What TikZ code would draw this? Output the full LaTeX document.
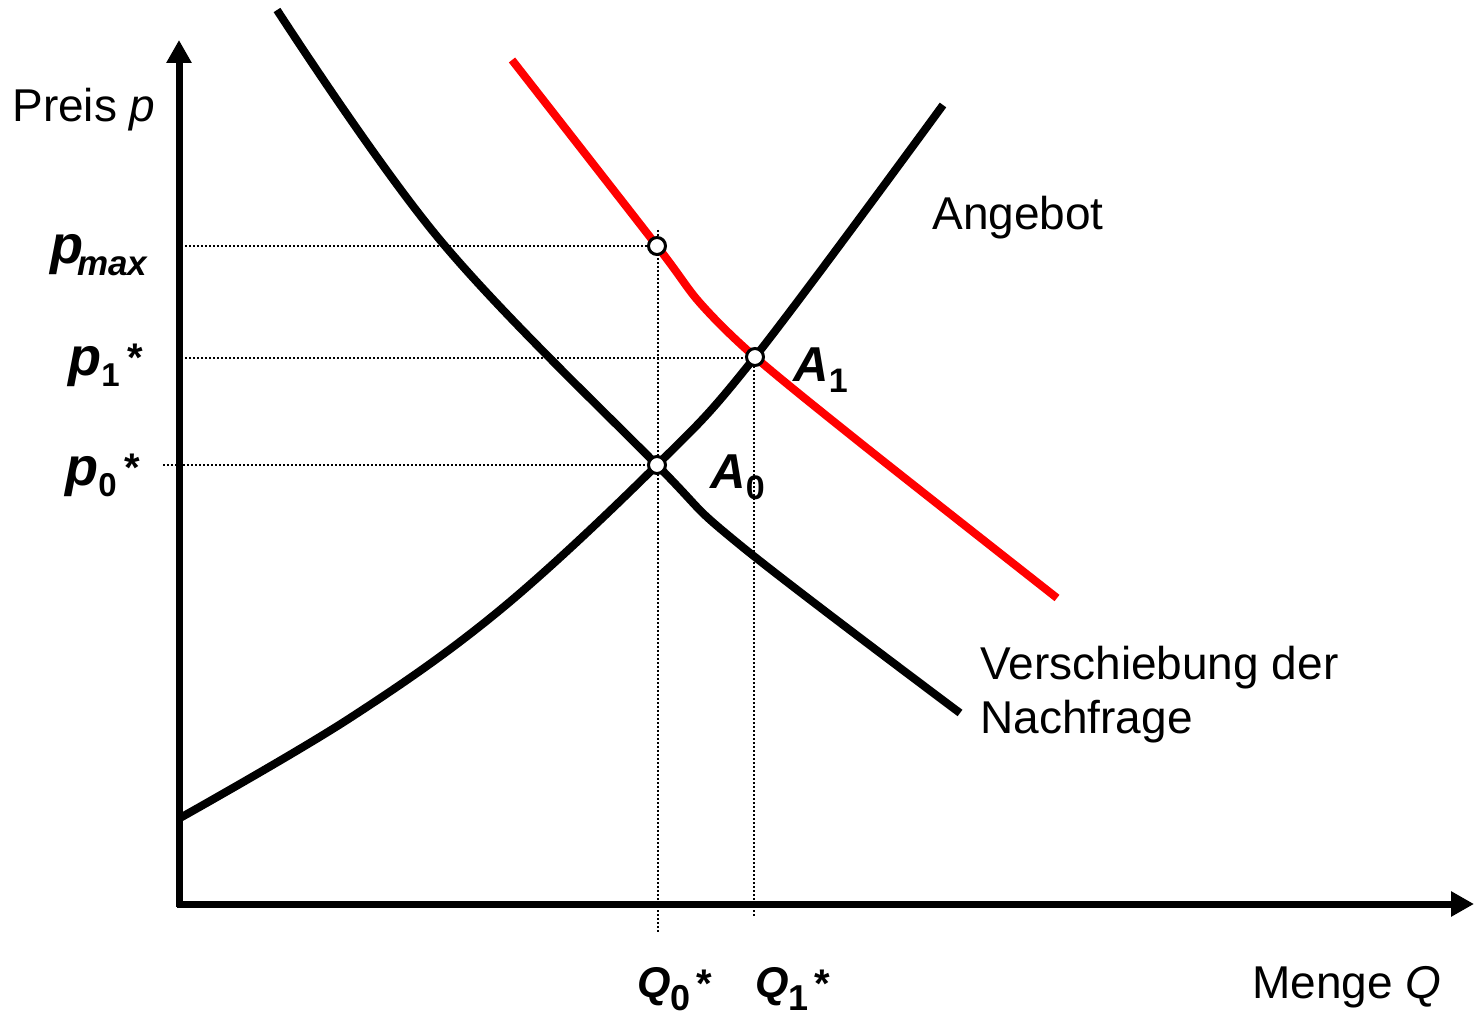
\documentclass[tikz,border=0pt]{standalone}
\usepackage{fontspec}
\setmainfont{Liberation Sans}
\usetikzlibrary{arrows.meta}
\tikzset{
  axisline/.style={line width=3.5pt, -{Triangle[length=11.5pt,width=12pt]}},
  curveline/.style={line width=4pt, line join=round},
  guide/.style={line width=0.8pt, dash pattern=on 1pt off 1pt},
  eqpoint/.style={circle, draw, fill=white, line width=1.5pt, inner sep=0pt, minimum size=8.5pt},
  txt/.style={font=\fontsize{23}{25}\selectfont, inner sep=0pt, anchor=base west},
  lab/.style={inner sep=0pt, anchor=base west},
}
\newcommand{\bilab}[2]{{\fontsize{#1}{#1}\selectfont\bfseries\itshape #2}}
\newcommand{\sublab}[3]{\raisebox{-#1}{\fontsize{#2}{#2}\selectfont\bfseries #3}}
\newcommand{\starlab}[1]{\raisebox{#1}{\fontsize{20}{20}\selectfont\bfseries *}}
\begin{document}
\begin{tikzpicture}[x=0.5pt,y=-0.5pt]
\useasboundingbox (0,0) rectangle (1476,1015);

% key points
\coordinate (E0) at (657,465);
\coordinate (E1) at (755,357);
\coordinate (Em) at (657,246);

% guide lines
\draw[guide] (185,246) -- (648,246);
\draw[guide] (185,358) -- (745,358);
\draw[guide] (163,465) -- (647,465);
\draw[guide] (658,230) -- (658,933);
\draw[guide] (754,366) -- (754,917);

% demand (original)
\draw[curveline] plot[smooth, tension=0.6] coordinates
  {(277,10) (440,240) (E0) (740,545) (960,713)};
% supply
\draw[curveline] plot[smooth, tension=0.6] coordinates
  {(180,818) (350,718) (500,610) (E0) (E1) (943,105)};
% shifted demand
\draw[curveline, red] plot[smooth, tension=0.5] coordinates
  {(512,60) (Em) (700,303) (E1) (863,445) (1057,598)};

% axes
\draw[line width=3.5pt] (179,907) -- (179,60);
\draw[axisline] (179,80) -- (179,40);
\draw[line width=3.5pt] (177,904) -- (1450,904);
\draw[axisline] (1430,904) -- (1474,904);

% equilibrium markers
\node[eqpoint] (pmaxpt) at (Em) {};
\node[eqpoint] (A1pt) at (E1) {};
\node[eqpoint] (A0pt) at (E0) {};

% texts
\node[txt] (preis) at (12,122) {Preis \textit{p}};
\node[txt] (menge) at (1252,998) {Menge \textit{Q}};
\node[txt] (angebot) at (932,230) {Angebot};
\node[txt] (versch) at (980,679) {Verschiebung der};
\node[txt] (nachfr) at (980,733) {Nachfrage};

\node[lab] (pmaxlab) at (50,264) {\bilab{27}{p}\hspace{-3pt}\raisebox{-6pt}{\bilab{17.5}{max}}};
\node[lab] (p1lab) at (68,376) {\bilab{27}{p}\sublab{5.5pt}{16.5}{1}\hspace{4pt}\starlab{2pt}};
\node[lab] (p0lab) at (65,486) {\bilab{27}{p}\sublab{5.5pt}{16.5}{0}\hspace{4pt}\starlab{2pt}};

\node[lab] (A1lab) at (793,382) {\bilab{24.5}{A}\sublab{5.5pt}{17}{1}};
\node[lab] (A0lab) at (710,488) {\bilab{24.5}{A}\sublab{5.5pt}{17}{0}};

\node[lab] (Q0lab) at (637,997) {\bilab{21.5}{Q}\sublab{6.5pt}{18}{0}\hspace{3pt}\starlab{0pt}};
\node[lab] (Q1lab) at (755,997) {\bilab{21.5}{Q}\sublab{6.5pt}{18}{1}\hspace{3pt}\starlab{0pt}};
\end{tikzpicture}
\end{document}
